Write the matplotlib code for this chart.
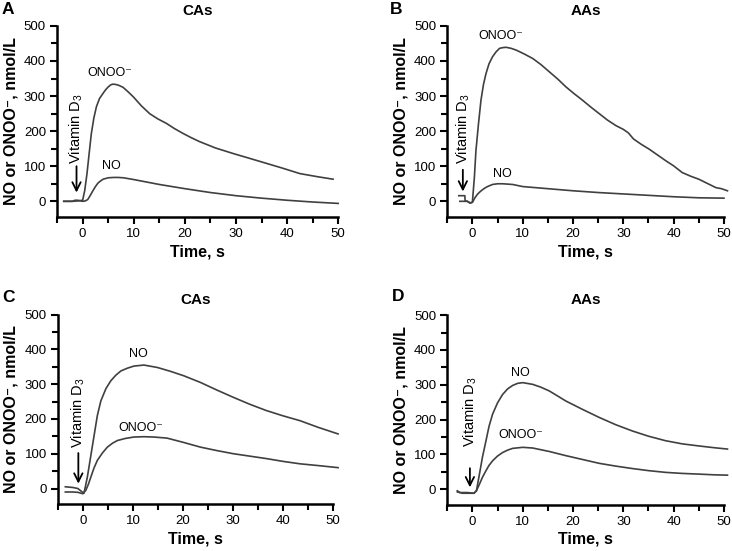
import matplotlib.pyplot as plt
from matplotlib.ticker import MultipleLocator

plt.rcParams['font.family'] = ['Liberation Sans', 'DejaVu Sans']
plt.rcParams['mathtext.fontset'] = 'custom'
plt.rcParams['mathtext.rm'] = 'Liberation Sans'

# ---- data (time in s, concentration in nmol/L) ----
# Panel A (CAs)
a_onoo_t = [-3.7, -2, -1, 0, 0.4, 0.85, 1.3, 1.7, 2.2, 2.7, 3.3, 4, 4.5, 5, 5.5, 5.9, 6.5, 7, 7.9, 8.9, 9.9, 11.5, 13.1, 14.7, 16.4, 18, 19.7, 21.3, 22.9, 26, 29.5, 33, 36, 39, 42.5, 46, 49]
a_onoo_v = [0, 0, 1, 3, 30, 79, 140, 193, 238, 270, 293, 308, 318, 326, 332, 334, 333, 331, 325, 312, 298, 272, 250, 235, 222, 207, 193, 181, 170, 152, 136, 121, 108, 95, 79, 70, 63]
a_no_t = [-3.7, -2, -1.5, -1, 0, 0.5, 1, 1.5, 2, 2.5, 3, 3.5, 4, 4.5, 5, 6, 7, 8, 10, 12.5, 15, 17.5, 20, 25, 30, 35, 40, 45, 50]
a_no_v = [0, 0, 3, 3, 0, 1, 5, 17, 30, 42, 52, 58, 63, 65, 67, 68, 68, 67, 62, 55, 48, 42, 36, 25, 16, 9, 3, -2, -6]

# Panel B (AAs)
b_onoo_t = [-2.5, -1, -0.5, 0, 0.4, 0.7, 1.2, 1.7, 2.2, 2.7, 3.3, 4, 4.7, 5.4, 6, 6.7, 7.7, 8.7, 10.3, 12, 13.6, 15.3, 17, 18.6, 20.2, 21.9, 23.5, 25.2, 26.8, 28.5, 30, 31, 32, 33.5, 35.1, 36.7, 38.4, 40, 41.7, 43.3, 45, 46.7, 48.4, 49.5, 50.7]
b_onoo_v = [0, 0, -5, -2, 70, 144, 220, 288, 333, 364, 392, 412, 426, 436, 438, 439, 436, 431, 420, 407, 390, 369, 348, 326, 307, 288, 269, 250, 232, 216, 205, 195, 178, 163, 149, 133, 116, 101, 82, 72, 63, 51, 39, 36, 30]
b_no_t = [-2.7, -1.5, -1.45, -1, -0.4, 0, 0.5, 1, 1.5, 2, 2.5, 3, 3.5, 4, 5, 6, 7, 8, 10, 15, 20, 25, 30, 35, 40, 45, 50]
b_no_v = [16, 16, 1, 0, -5, -3, 10, 20, 27, 33, 38, 42, 45, 48, 50, 50, 49, 48, 42, 36, 30, 25, 21, 17, 13, 10, 9]

# Panel C (CAs)
c_no_t = [-3.5, -2, -1, -0.3, 0.2, 0.5, 0.9, 1.6, 2.3, 2.9, 3.6, 4.6, 5.6, 6.6, 7.6, 8.9, 10.2, 12.2, 14.9, 17.5, 20.2, 23.5, 26.8, 30.1, 33.4, 36.7, 40, 43.4, 47, 51]
c_no_v = [5, 3, 0, -8, -14, 5, 33, 95, 157, 210, 252, 287, 310, 326, 338, 346, 352, 355, 348, 337, 324, 305, 283, 262, 242, 224, 209, 195, 176, 157]
c_onoo_t = [-3.5, -2, -1, 0, 0.6, 1.1, 1.6, 2.2, 2.9, 3.9, 4.9, 5.9, 6.9, 8.5, 10.2, 12.2, 14.2, 16.8, 20, 23.5, 26.8, 30.1, 33.4, 36.7, 40, 43.4, 47, 51]
c_onoo_v = [-10, -10, -11, -15, -5, 12, 33, 58, 81, 102, 119, 130, 138, 144, 148, 149, 148, 145, 133, 119, 109, 100, 93, 86, 78, 71, 66, 60]

# Panel D (AAs)
d_no_t = [-3, -2.5, -1, 0.3, 0.8, 1.4, 2, 2.7, 3.3, 4, 5, 6, 7, 8, 9, 10, 12, 13.6, 15.3, 18.6, 21.9, 25.2, 28.5, 31.8, 35, 38.4, 41.7, 45, 48, 50.7]
d_no_v = [-5, -10, -10, -12, -5, 43, 92, 139, 180, 215, 248, 272, 288, 298, 304, 306, 301, 293, 282, 253, 229, 206, 185, 167, 152, 139, 130, 124, 119, 115]
d_onoo_t = [-3, -2, -1, 0.3, 0.8, 1.4, 2, 2.7, 3.3, 4, 5, 6, 7, 8, 10, 12, 15.3, 18.6, 21.9, 25.2, 28.5, 31.8, 35, 38.4, 41.7, 45, 48, 50.7]
d_onoo_v = [-8, -12, -12, -12, -5, 14, 34, 53, 68, 81, 95, 105, 112, 117, 120, 118, 108, 96, 85, 74, 66, 59, 53, 48, 45, 43, 41, 40]

panels = [
    ('A', 'CAs', [(a_onoo_t, a_onoo_v), (a_no_t, a_no_v)],
     [('ONOO⁻', 5.3, 367), ('NO', 5.6, 101)], (-1.2, 100, 25), (-1.2, 207)),
    ('B', 'AAs', [(b_onoo_t, b_onoo_v), (b_no_t, b_no_v)],
     [('ONOO⁻', 5.7, 470), ('NO', 6.0, 77)], (-1.9, 90, 28), (-1.9, 207)),
    ('C', 'CAs', [(c_no_t, c_no_v), (c_onoo_t, c_onoo_v)],
     [('NO', 11.0, 386), ('ONOO⁻', 11.5, 174)], (-0.9, 102, 14), (-0.9, 219)),
    ('D', 'AAs', [(d_no_t, d_no_v), (d_onoo_t, d_onoo_v)],
     [('NO', 9.5, 334), ('ONOO⁻', 9.7, 156)], (-0.5, 60, 5), (-0.5, 222)),
]

# axes rectangles in figure fractions (left, bottom, width, height)
rects = [
    (0.078, 0.606, 0.384, 0.347),
    (0.611, 0.606, 0.378, 0.347),
    (0.079, 0.085, 0.376, 0.344),
    (0.611, 0.084, 0.378, 0.344),
]
# panel letter positions, pixels from top-left
letter_px = [(2, 2), (390, 2), (2, 290), (392, 289)]

W, H = 732, 551
fig = plt.figure(figsize=(W / 100, H / 100), dpi=100)
line_color = '#404040'

for (letter, title, curves, labels, arrow, vit), rect, lp in zip(panels, rects, letter_px):
    ax = fig.add_axes(rect)
    for t, v in curves:
        ax.plot(t, v, color=line_color, lw=1.2, clip_on=False)
    for txt, x, y in labels:
        ax.text(x, y, txt, ha='center', va='center', fontsize=9)
    ax.annotate('', xy=(arrow[0], arrow[2]), xytext=(arrow[0], arrow[1]),
                arrowprops=dict(arrowstyle='->', lw=1.3, color='black', mutation_scale=15,
                                shrinkA=0, shrinkB=0))
    ax.text(vit[0], vit[1], 'Vitamin D$_\\mathregular{3}$', rotation=90, ha='center', va='center', fontsize=10.5)

    ax.set_xlim(-5, 50)
    ax.set_ylim(-45, 500)
    ax.xaxis.set_major_locator(MultipleLocator(10))
    ax.xaxis.set_minor_locator(MultipleLocator(5))
    ax.yaxis.set_major_locator(MultipleLocator(100))
    ax.yaxis.set_minor_locator(MultipleLocator(50))
    ax.spines['top'].set_visible(False)
    ax.spines['right'].set_visible(False)
    for s in ['left', 'bottom']:
        ax.spines[s].set_linewidth(1.8)
    ax.tick_params(which='major', direction='out', length=5, width=1.5, labelsize=9.5, pad=3)
    ax.tick_params(which='minor', direction='out', length=4, width=1.5)
    ax.set_xlabel('Time, s', fontsize=11.5, fontweight='bold', labelpad=3)
    ax.set_ylabel('NO or ONOO⁻, nmol/L', fontsize=11.5, fontweight='bold', labelpad=4)
    ax.set_title(title, fontsize=11, fontweight='bold', pad=8)
    fig.text(lp[0] / W, 1 - lp[1] / H, letter, fontsize=12.5, fontweight='bold',
             ha='left', va='top')

fig.savefig('out.png', dpi=100)
